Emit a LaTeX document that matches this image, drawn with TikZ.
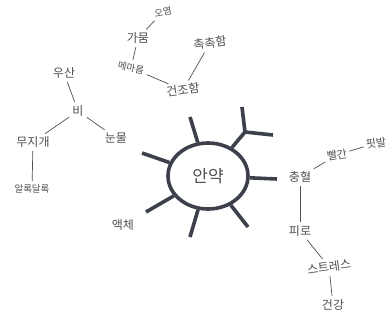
\documentclass[tikz,border=0pt]{standalone}
\usepackage{fontspec}
\newfontfamily\kr{Noto Sans CJK KR}
\usetikzlibrary{shapes.geometric}
\definecolor{spokec}{HTML}{3B404A}
\definecolor{pencil}{HTML}{505050}
\tikzset{
  word/.style={font=\kr\fontsize{12}{12}\selectfont, text=pencil, inner sep=1.5pt},
  small/.style={word, font=\kr\fontsize{9.5}{10}\selectfont},
  mid/.style={word, font=\kr\fontsize{11}{11}\selectfont, inner sep=0.5pt},
  conn/.style={draw=pencil, line width=0.7pt, shorten <=2pt, shorten >=2pt},
  spoke/.style={draw=spokec, line width=3.6pt},
}
\begin{document}
\begin{tikzpicture}[x=1pt,y=-1pt]
\useasboundingbox[fill=white] (0,0) rectangle (392,322);

% central eye
\node[ellipse, draw=spokec, line width=3.6pt, minimum width=80pt, minimum height=66pt,
      font=\kr\fontsize{17}{17}\selectfont, text=pencil] (eye) at (208,176) {안약};

\coordinate (s1) at (190,117);
\coordinate (s2) at (142,153);
\coordinate (s3) at (146,212);
\coordinate (s4) at (190,237);
\coordinate (s5) at (248,227);
\coordinate (s6) at (277,179);
\coordinate (s7) at (245,132);
\coordinate (s7a) at (242,107);
\coordinate (s7b) at (273,135);
\foreach \s in {s1,s2,s3,s4,s5,s6,s7}{\draw[spoke] (eye) -- (\s);}
\draw[spoke, line cap=butt] (s7a) -- (s7) -- (s7b);

% right branch
\node[word] (chung) at (300,177) {충혈};
\node[mid, rotate=10] (ppal) at (337,155) {빨간};
\node[mid, rotate=8] (pit) at (376,143) {핏발};
\node[word] (piro) at (300,231) {피로};
\node[word, rotate=8] (stress) at (329,267) {스트레스};
\node[word] (gun) at (333,305) {건강};
\draw[conn] (chung) -- (ppal);
\draw[conn] (ppal) -- (pit);
\draw[conn] (chung) -- (piro);
\draw[conn] (piro) -- (stress);
\draw[conn] (stress) -- (gun);

% left branch
\node[word] (aek) at (123,225) {액체};
\node[word] (bi) at (78,111) {비};
\node[word] (usan) at (64,73) {우산};
\node[word] (muji) at (33,142) {무지개};
\node[word] (nun) at (116,138) {눈물};
\node[small] (allok) at (32,189) {알록달록};
\draw[conn] (usan) -- (bi);
\draw[conn] (bi) -- (muji);
\draw[conn] (bi) -- (nun);
\draw[conn] (muji) -- (allok);

% top branch
\node[word, rotate=8] (dry) at (183,90) {건조함};
\node[word, rotate=8] (moist) at (210,43) {촉촉함};
\node[small, rotate=-12] (mema) at (131,68) {메마름};
\node[word] (gamum) at (138,38) {가뭄};
\node[small, rotate=10] (oyeom) at (163,12) {오염};
\draw[conn] (dry) -- (moist);
\draw[conn] (mema) -- (dry);
\draw[conn] (mema) -- (gamum);
\draw[conn] (gamum) -- (oyeom);
\end{tikzpicture}
\end{document}
